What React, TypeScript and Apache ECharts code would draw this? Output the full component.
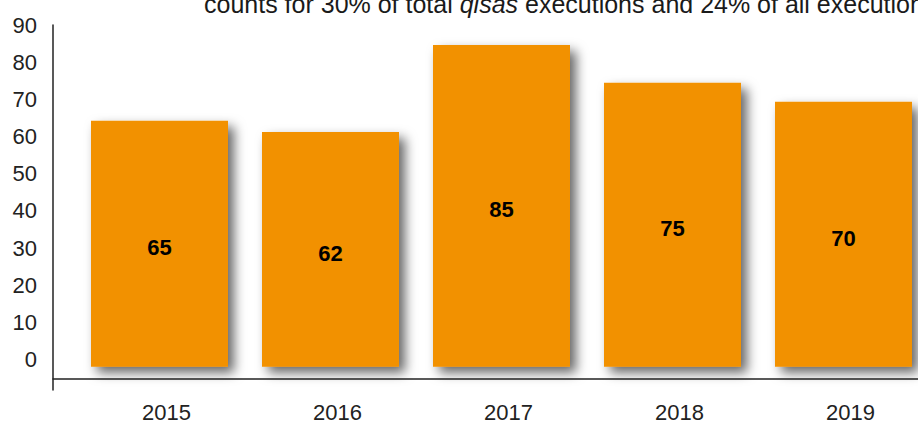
import React, { useEffect, useRef } from "react";
import * as echarts from "echarts";

const years = ["2015", "2016", "2017", "2018", "2019"];
const executions = [65, 62, 85, 75, 70];
const yTickLabels = [0, 10, 20, 30, 40, 50, 60, 70, 80, 90];
const titleText = "counts for 30% of total {i|qisas} executions and 24% of all executions";

const FONT = "'Liberation Sans', Helvetica, Arial, sans-serif";

export default function App() {
  const ref = useRef<HTMLDivElement>(null);
  useEffect(() => {
    if (!ref.current) return;
    const chart = echarts.init(ref.current, undefined, { renderer: "svg" });
    chart.setOption({
      animation: false,
      backgroundColor: "#ffffff",
      textStyle: { fontFamily: FONT },
      title: {
        text: titleText,
        left: 199,
        top: -14,
        textStyle: {
          fontFamily: FONT,
          fontSize: 25,
          fontWeight: "normal",
          color: "#1a1a1a",
          rich: {
            i: { fontFamily: FONT, fontSize: 25, fontStyle: "italic", color: "#1a1a1a" },
          },
        },
      },
      grid: [
        { left: 74, right: 1, top: 26, height: 340.7 },
        { left: 53, right: 0, top: 25, bottom: 34 },
      ],
      xAxis: [
        {
          type: "category",
          gridIndex: 0,
          data: years,
          axisLine: { show: false },
          axisTick: { show: false },
          axisLabel: {
            fontFamily: FONT,
            fontSize: 22,
            color: "#222",
            margin: 35,
            padding: [0, 0, 0, 14],
          },
        },
        {
          type: "value",
          gridIndex: 1,
          min: 0,
          max: 1,
          position: "bottom",
          offset: -11,
          axisLine: { show: true, onZero: false, lineStyle: { color: "#222", width: 1.5 } },
          axisTick: { show: false },
          axisLabel: { show: false },
          splitLine: { show: false },
        },
      ],
      yAxis: [
        {
          type: "value",
          gridIndex: 0,
          min: 0,
          max: 90,
          show: false,
          splitLine: { show: false },
        },
        {
          type: "value",
          gridIndex: 1,
          min: -8.2,
          max: 90,
          axisLine: { show: true, onZero: false, lineStyle: { color: "#222", width: 1.5 } },
          axisTick: { show: false },
          splitLine: { show: false },
          axisLabel: {
            customValues: yTickLabels,
            fontFamily: FONT,
            fontSize: 22,
            color: "#222",
            margin: 16,
          },
        },
      ],
      series: [
        {
          type: "bar",
          xAxisIndex: 0,
          yAxisIndex: 0,
          data: executions,
          barWidth: 137,
          itemStyle: {
            color: "#F29100",
            shadowColor: "rgba(0,0,0,0.6)",
            shadowBlur: 12,
            shadowOffsetX: 6,
            shadowOffsetY: 6,
          },
          label: {
            show: true,
            position: "inside",
            offset: [0, 4],
            fontFamily: FONT,
            fontSize: 22,
            fontWeight: "bold",
            color: "#000",
          },
        },
      ],
    });
    return () => chart.dispose();
  }, []);
  return (
    <div
      style={{
        position: "fixed",
        left: 0,
        top: 0,
        width: 918,
        height: 424,
        overflow: "hidden",
      }}
    >
      <div ref={ref} style={{ width: 930, height: 424 }} />
    </div>
  );
}
